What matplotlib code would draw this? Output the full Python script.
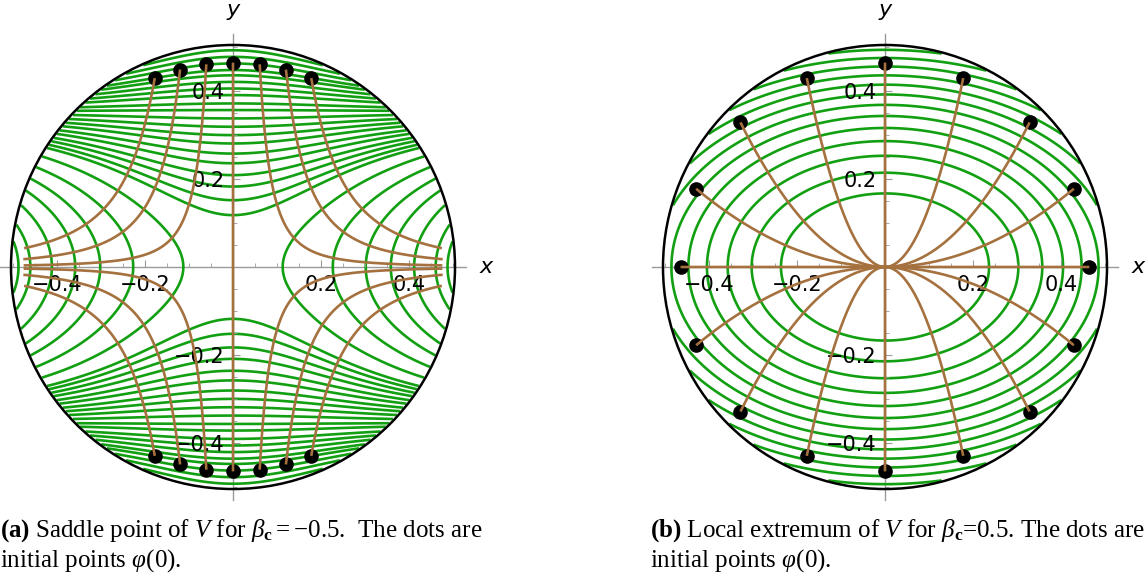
import numpy as np
import matplotlib
matplotlib.use("Agg")
import matplotlib.pyplot as plt

plt.rcParams["font.family"] = ["DejaVu Sans"]
plt.rcParams["mathtext.fontset"] = "custom"
plt.rcParams["mathtext.rm"] = "Liberation Serif"
plt.rcParams["mathtext.it"] = "Liberation Serif:italic"
plt.rcParams["mathtext.bf"] = "Liberation Serif:bold"
plt.rcParams["contour.negative_linestyle"] = "solid"

GREEN = "#12a012"
BROWN = "#a5713f"
AXIS_GRAY = "#9a9a9a"

# values
disk_radius = 0.505
start_radius = 0.465

# V = quad * x^2 + y^2 - soft * y^4 + coupling * x^2 * y^2, one entry per panel
quad = [-0.75, 0.5]
soft = [0.74, 0.0]
coupling = [6.0, 0.0]
# flow: dx/dt = rate_x * x, dy/dt = -rate_y * y
rate_x = [1.0, -1.0]
rate_y = [2.35, 2.0]
stop_radius = [0.478, 1.0]

# (a) saddle: where the contours cross the axes, start angles of the flows
saddle_y_cross = [0.118, 0.152, 0.183, 0.209, 0.236, 0.258, 0.281, 0.300, 0.319, 0.338,
                  0.357, 0.372, 0.391, 0.406, 0.421, 0.436, 0.448, 0.463, 0.478, 0.493]
saddle_x_cross = [0.113, 0.227, 0.302, 0.359, 0.412, 0.461, 0.488]
saddle_angles = [67.5, 75, 82.5, 90, 97.5, 105, 112.5,
                 247.5, 255, 262.5, 270, 277.5, 285, 292.5]

# (b) extremum: contour levels of V, start angles of the flows
extremum_levels = [0.028, 0.046, 0.064, 0.082, 0.100, 0.118, 0.136, 0.154,
                   0.172, 0.190, 0.208, 0.226, 0.244, 0.262]
extremum_angles = [0, 22.5, 45, 67.5, 90, 112.5, 135, 157.5,
                   180, 202.5, 225, 247.5, 270, 292.5, 315, 337.5]

major_ticks = [-0.4, -0.2, 0.2, 0.4]
minor_ticks = [-0.5, -0.45, -0.35, -0.3, -0.25, -0.15, -0.1, -0.05,
               0.05, 0.1, 0.15, 0.25, 0.3, 0.35, 0.45, 0.5]

captions = [
    (r"$\mathbf{(a)}$ Saddle point of $V$ for $\beta_{\mathbf{c}} = -0.5$.  The dots are",
     r"initial points $\varphi(0)$."),
    (r"$\mathbf{(b)}$ Local extremum of $V$ for $\beta_{\mathbf{c}}$=0.5. The dots are",
     r"initial points $\varphi(0)$."),
]


def potential(k, x, y):
    return quad[k] * x ** 2 + y ** 2 - soft[k] * y ** 4 + coupling[k] * x ** 2 * y ** 2


def flow_line(k, angle):
    a = np.radians(angle)
    t = np.linspace(0, 8, 1500)
    x = start_radius * np.cos(a) * np.exp(rate_x[k] * t)
    y = start_radius * np.sin(a) * np.exp(-rate_y[k] * t)
    out = np.nonzero(np.hypot(x, y) > stop_radius[k])[0]
    if len(out):
        x, y = x[:out[0]], y[:out[0]]
    return x, y


def style_axes(ax):
    ax.set_xlim(-0.53, 0.53)
    ax.set_ylim(-0.53, 0.53)
    ax.set_aspect("equal")
    for s in ["top", "right"]:
        ax.spines[s].set_visible(False)
    for s in ["left", "bottom"]:
        ax.spines[s].set_position("zero")
        ax.spines[s].set_color(AXIS_GRAY)
        ax.spines[s].set_linewidth(1.0)
        ax.spines[s].set_zorder(0.5)
    ax.set_xticks(major_ticks)
    ax.set_yticks(major_ticks)
    ax.set_xticks(minor_ticks, minor=True)
    ax.set_yticks(minor_ticks, minor=True)
    ax.tick_params(which="both", direction="in", color=AXIS_GRAY, labelsize=15, pad=6)
    ax.tick_params(which="major", length=5)
    ax.tick_params(which="minor", length=3)
    ax.text(0, 0.585, "y", style="italic", fontsize=16, ha="center", va="center")
    ax.text(0.575, 0, "x", style="italic", fontsize=16, ha="center", va="center", clip_on=False)


fig = plt.figure(figsize=(11.46, 5.77), dpi=100)
axes = [fig.add_axes([0 / 1146, 77 / 577, 466 / 1146, 466 / 577]),
        fig.add_axes([652 / 1146, 77 / 577, 466 / 1146, 466 / 577])]

g = np.linspace(-0.53, 0.53, 800)
X, Y = np.meshgrid(g, g)
outside = np.hypot(X, Y) > disk_radius - 0.002

for k, ax in enumerate(axes):
    V = np.ma.array(potential(k, X, Y), mask=outside)
    if k == 0:
        ys = np.array(saddle_y_cross)
        xs = np.array(saddle_x_cross)
        levels = np.sort(np.concatenate([potential(0, xs, 0 * xs), potential(0, 0 * ys, ys)]))
        angles = saddle_angles
    else:
        levels = extremum_levels
        angles = extremum_angles
    ax.contour(X, Y, V, levels=levels, colors=GREEN, linewidths=1.9, linestyles="solid", zorder=1)
    ax.add_patch(plt.Circle((0, 0), disk_radius, fill=False, color="black", lw=1.8, zorder=3))

    for ang in angles:
        a = np.radians(ang)
        ax.plot(start_radius * np.cos(a), start_radius * np.sin(a), "o", color="black", ms=9.5, zorder=4)
        fx, fy = flow_line(k, ang)
        ax.plot(fx, fy, color=BROWN, lw=1.9, zorder=5, solid_capstyle="butt")
    style_axes(ax)

for k, (line1, line2) in enumerate(captions):
    x0 = [0.0, 650 / 1146][k]
    fig.text(x0, 1 - 531 / 577, line1, fontfamily="Liberation Serif", fontsize=18, va="center")
    fig.text(x0, 1 - 561 / 577, line2, fontfamily="Liberation Serif", fontsize=18, va="center")

fig.savefig("out.png", dpi=100)
